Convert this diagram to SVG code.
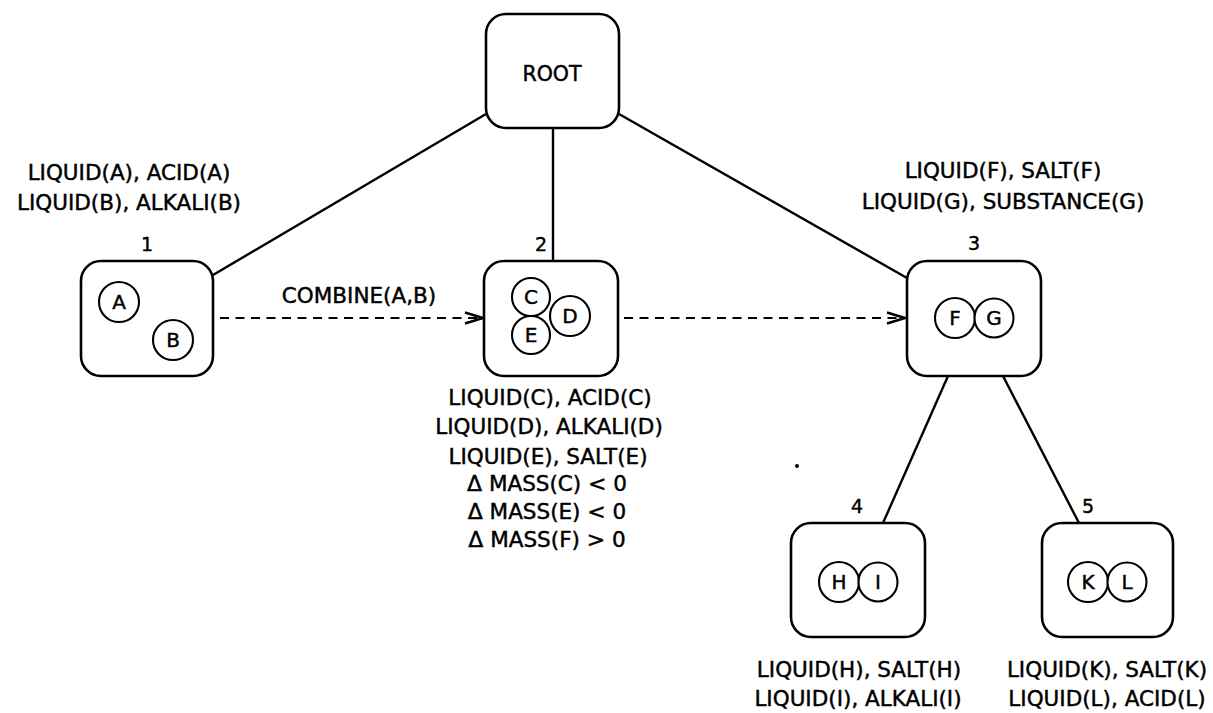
<svg xmlns="http://www.w3.org/2000/svg" width="1213" height="713" viewBox="0 0 1213 713">
  <style>
    .box { fill: #fff; stroke: #000; stroke-width: 2.6; }
    .atom { fill: #fff; stroke: #000; stroke-width: 2.1; }
    .edge { fill: none; stroke: #000; stroke-width: 2.4; }
    .flow { fill: none; stroke: #000; stroke-width: 2.2; stroke-dasharray: 9 6.5; }
    text { font-family: "DejaVu Sans", "Liberation Sans", sans-serif; fill: #000; stroke: #000; stroke-width: 0.45; text-anchor: middle; }
    .lbl { font-size: 21.5px; }
    .num { font-size: 19px; }
    .sym { font-size: 20px; }
    .op { font-size: 22px; }
    .big { font-size: 22px; }
  </style>
  <defs>
    <marker id="chevron" viewBox="0 0 20 14" refX="20" refY="7" markerWidth="20" markerHeight="14" markerUnits="userSpaceOnUse" orient="auto">
      <path d="M1,1.5 L19,7 L1,12.5" fill="none" stroke="#000" stroke-width="2.4"/>
    </marker>
  </defs>

  <!-- tree edges and transitions -->
  <g id="connectors">
    <line class="edge" x1="486" y1="114" x2="213" y2="275"/>
    <line class="edge" x1="553" y1="128" x2="553" y2="260"/>
    <line class="edge" x1="619" y1="114" x2="907" y2="278"/>
    <line class="edge" x1="948" y1="376" x2="883" y2="523"/>
    <line class="edge" x1="1003" y1="376" x2="1079" y2="523"/>
    <line class="flow" x1="220" y1="318" x2="484" y2="318" marker-end="url(#chevron)"/>
    <line class="flow" x1="624" y1="318" x2="906" y2="318" marker-end="url(#chevron)"/>
    <text class="lbl" x="359" y="303">COMBINE(A,B)</text>
  </g>

  <g id="root">
    <rect class="box" x="486" y="14" width="133" height="114" rx="20"/>
    <text class="lbl" x="552" y="81" style="font-size:20.5px">ROOT</text>
  </g>

  <g id="state1">
    <text class="num" x="147" y="251">1</text>
    <rect class="box" x="81" y="261" width="132" height="115" rx="20"/>
    <circle class="atom" cx="119" cy="302" r="20"/>
    <text class="sym" x="119" y="309">A</text>
    <circle class="atom" cx="173" cy="340" r="20"/>
    <text class="sym" x="173" y="347">B</text>
    <text class="lbl" x="129" y="180">LIQUID(A), ACID(A)</text>
    <text class="lbl" x="129" y="210">LIQUID(B), ALKALI(B)</text>
  </g>

  <g id="state2">
    <text class="num" x="541" y="251">2</text>
    <rect class="box" x="484" y="261" width="134" height="115" rx="20"/>
    <circle class="atom" cx="531" cy="297" r="19"/>
    <text class="sym" x="531" y="304">C</text>
    <circle class="atom" cx="531" cy="335" r="19"/>
    <text class="sym" x="531" y="342">E</text>
    <circle class="atom" cx="570" cy="316" r="20"/>
    <text class="sym" x="570" y="323">D</text>
    <text class="lbl" x="550" y="405">LIQUID(C), ACID(C)</text>
    <text class="lbl" x="549" y="434">LIQUID(D), ALKALI(D)</text>
    <text class="lbl" x="548" y="464">LIQUID(E), SALT(E)</text>
    <text class="lbl" x="547" y="491"><tspan class="big">Δ</tspan> MASS(C) <tspan class="op">&lt;</tspan> 0</text>
    <text class="lbl" x="547" y="519"><tspan class="big">Δ</tspan> MASS(E) <tspan class="op">&lt;</tspan> 0</text>
    <text class="lbl" x="547" y="547"><tspan class="big">Δ</tspan> MASS(F) <tspan class="op">&gt;</tspan> 0</text>
  </g>

  <g id="state3">
    <text class="num" x="974" y="250">3</text>
    <rect class="box" x="907" y="261" width="134" height="115" rx="20"/>
    <circle class="atom" cx="955" cy="318" r="20"/>
    <text class="sym" x="955" y="325">F</text>
    <circle class="atom" cx="994" cy="318" r="19.5"/>
    <text class="sym" x="994" y="325">G</text>
    <text class="lbl" x="1003" y="178">LIQUID(F), SALT(F)</text>
    <text class="lbl" x="1003" y="209">LIQUID(G), SUBSTANCE(G)</text>
  </g>

  <g id="state4">
    <text class="num" x="857" y="513">4</text>
    <rect class="box" x="791" y="523" width="134" height="114" rx="20"/>
    <circle class="atom" cx="839" cy="582" r="20"/>
    <text class="sym" x="839" y="589">H</text>
    <circle class="atom" cx="878" cy="582" r="19.5"/>
    <text class="sym" x="878" y="589">I</text>
    <text class="lbl" x="859" y="677">LIQUID(H), SALT(H)</text>
    <text class="lbl" x="858" y="706">LIQUID(I), ALKALI(I)</text>
  </g>

  <g id="state5">
    <text class="num" x="1088" y="513">5</text>
    <rect class="box" x="1042" y="523" width="131" height="114" rx="20"/>
    <circle class="atom" cx="1088" cy="582" r="20"/>
    <text class="sym" x="1088" y="589">K</text>
    <circle class="atom" cx="1127" cy="582" r="19.5"/>
    <text class="sym" x="1127" y="589">L</text>
    <text class="lbl" x="1107" y="677">LIQUID(K), SALT(K)</text>
    <text class="lbl" x="1107" y="706">LIQUID(L), ACID(L)</text>
  </g>

  <circle cx="797" cy="466" r="2" fill="#000"/>
</svg>
